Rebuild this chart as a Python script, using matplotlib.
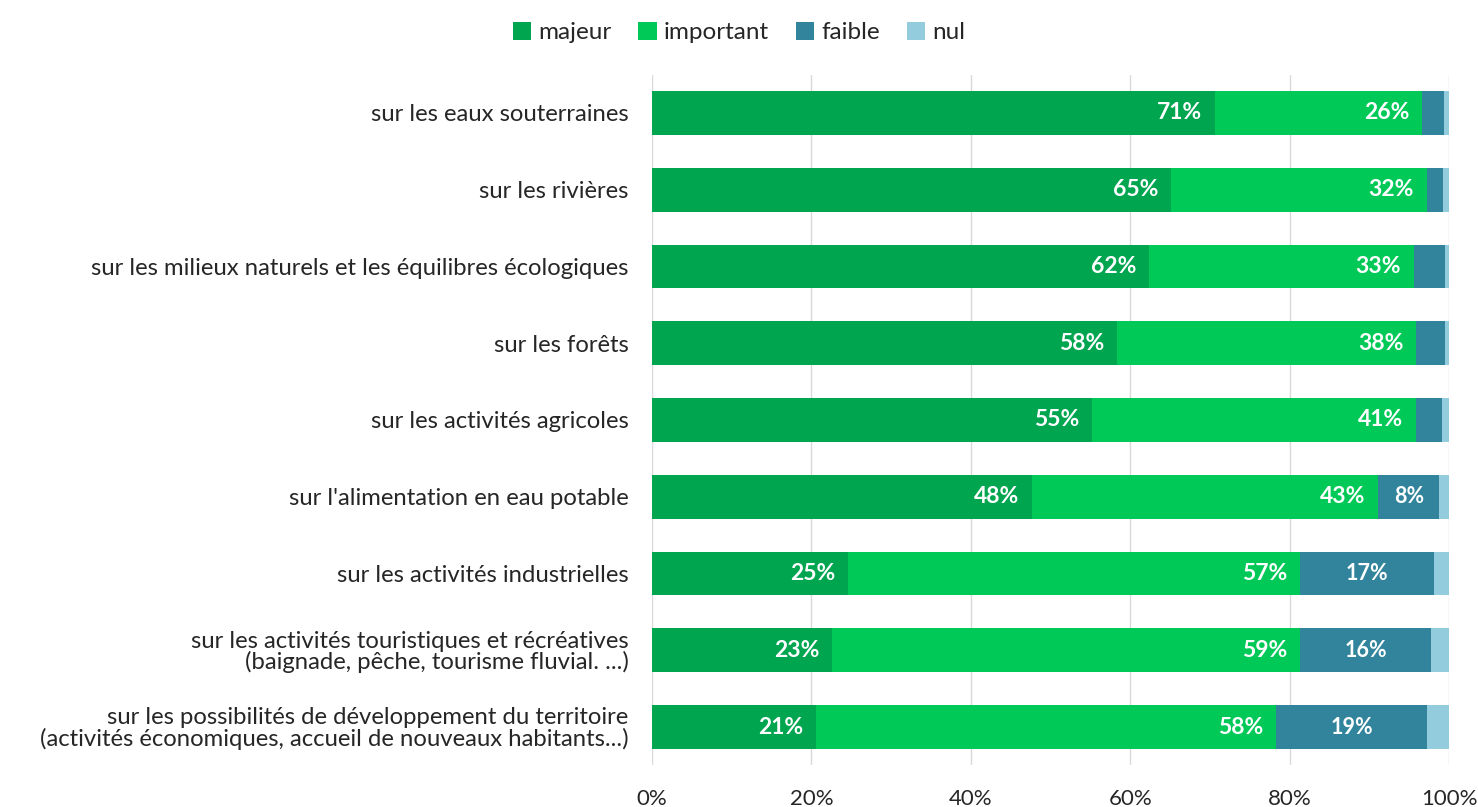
import matplotlib
matplotlib.use("Agg")
import matplotlib.pyplot as plt
import numpy as np

plt.rcParams['font.family'] = ['Lato', 'DejaVu Sans']

categories = [
    "sur les eaux souterraines",
    "sur les rivières",
    "sur les milieux naturels et les équilibres écologiques",
    "sur les forêts",
    "sur les activités agricoles",
    "sur l'alimentation en eau potable",
    "sur les activités industrielles",
    "sur les activités touristiques et récréatives\n(baignade, pêche, tourisme fluvial. ...)",
    "sur les possibilités de développement du territoire\n(activités économiques, accueil de nouveaux habitants...)",
]
majeur = [70.6, 65.1, 62.4, 58.3, 55.2, 47.7, 24.6, 22.6, 20.6]
important = [26.0, 32.1, 33.2, 37.6, 40.6, 43.4, 56.7, 58.7, 57.7]
faible = [2.8, 2.0, 3.9, 3.6, 3.3, 7.7, 16.8, 16.5, 19.0]
nul = [0.6, 0.8, 0.5, 0.5, 0.9, 1.2, 1.9, 2.2, 2.7]
series_names = ["majeur", "important", "faible", "nul"]
colors = ["#00A550", "#00C957", "#31849B", "#93CDDD"]
xticks = [0, 20, 40, 60, 80, 100]

fig = plt.figure(figsize=(14.78, 8.07), dpi=100)
ax = fig.add_axes([652/1478, 1-765.4/807, 797/1478, (765.4-74.6)/807])

y = np.arange(len(categories))
left = np.zeros(len(categories))
for name, vals, col in zip(series_names, [majeur, important, faible, nul], colors):
    vals = np.array(vals)
    bars = ax.barh(y, vals, left=left, height=0.57, color=col, label=name, zorder=2)
    if name in ("majeur", "important"):
        for b, v in zip(bars, vals):
            if v >= 5:
                ax.text(b.get_x() + b.get_width() - 1.6, b.get_y() + b.get_height()/2,
                        f"{round(v):.0f}%", ha="right", va="center", color="white",
                        fontsize=16.5, fontweight="bold", zorder=3)
    elif name == "faible":
        for b, v in zip(bars, vals):
            if v >= 5:
                ax.text(b.get_x() + b.get_width()/2, b.get_y() + b.get_height()/2,
                        f"{round(v):.0f}%", ha="center", va="center", color="white",
                        fontsize=15.5, fontweight="bold", zorder=3)
    left += vals

ax.set_ylim(len(categories) - 0.5, -0.5)
ax.set_xlim(0, 100)
ax.set_yticks(y)
ax.set_yticklabels(categories, fontsize=17.2, color="#262626", linespacing=0.98)
ax.set_xticks(xticks)
ax.set_xticklabels([f"{t}%" for t in xticks], fontsize=16, color="#262626")
ax.tick_params(axis="y", length=0, pad=17)
ax.tick_params(axis="x", length=0, pad=17)
ax.grid(axis="x", color="#D9D9D9", linewidth=1, zorder=0)
for s in ax.spines.values():
    s.set_visible(False)

fig.legend(loc="upper center", bbox_to_anchor=(0.5, 1.0), ncol=4, frameon=False,
           fontsize=17.5, handlelength=0.75, handleheight=0.75, handletextpad=0.3,
           columnspacing=1.1, labelcolor="#262626")

fig.savefig("out.png", dpi=100, facecolor="white")
